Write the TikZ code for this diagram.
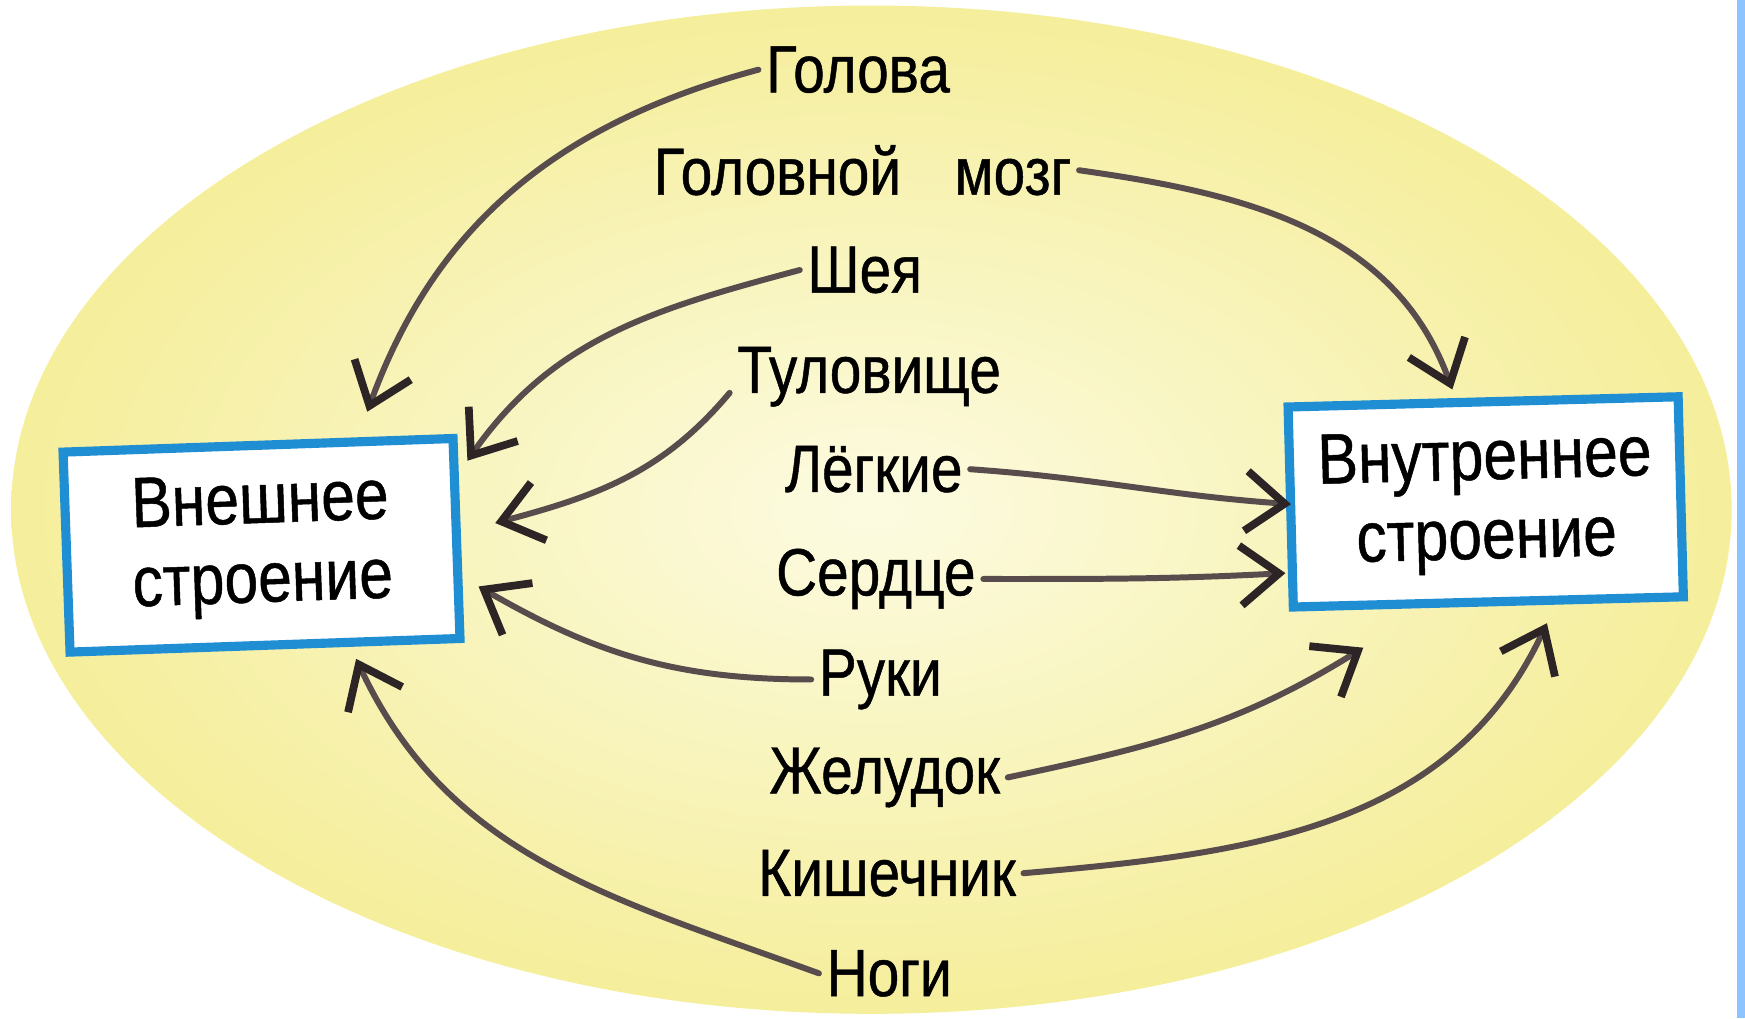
\documentclass[tikz,border=0pt]{standalone}
\usepackage{fontspec}
\setmainfont{Liberation Sans}[FakeStretch=0.85,FakeBold=0.7]
\usetikzlibrary{arrows.meta}

\definecolor{oval}{RGB}{245,238,155}
\definecolor{ovalin}{RGB}{252,251,225}
\definecolor{frame}{RGB}{32,142,210}
\definecolor{pencil}{RGB}{88,76,76}
\definecolor{pencilhead}{RGB}{45,36,38}
\definecolor{edge}{RGB}{140,196,255}

\begin{document}
\begin{tikzpicture}[x=0.01113cm,y=0.01113cm,
    part/.style={font=\fontsize{19}{22}\selectfont, anchor=base, inner sep=2pt},
    box/.style={draw=frame, line width=2.6pt, fill=white, minimum width=3.9cm,
      minimum height=2cm, align=center, font=\fontsize{20.3}{22.5}\selectfont},
    arr/.style={-{Straight Barb[length=11pt,width=17pt,line width=2.2pt,color=pencilhead]},
      line width=1.7pt, draw=pencil, line cap=round}]
  \useasboundingbox (0,0) rectangle (1568,915);
  \fill[white] (0,0) rectangle (1568,915);
  \shade[inner color=ovalin, outer color=oval] (783,457) ellipse [x radius=773, y radius=453];
  \fill[edge] (1561,0) rectangle (1568,915);

  \node[box, rotate=2] (outer) at (235,425) {Внешнее\\строение};
  \node[box, rotate=1.5] (inner) at (1335,464) {Внутреннее\\строение};

  \node[part] (golova) at (771,832) {Голова};
  \node[part] (mozg) at (775,740) {Головной\hspace{0.8em}мозг};
  \node[part] (sheya) at (777,652) {Шея};
  \node[part] (tulov) at (781,562) {Туловище};
  \node[part] (legkie) at (785,473) {Лёгкие};
  \node[part] (serdce) at (787,380) {Сердце};
  \node[part] (ruki) at (791,290) {Руки};
  \node[part] (zhelud) at (795,202) {Желудок};
  \node[part] (kish) at (797,110) {Кишечник};
  \node[part] (nogi) at (799,20) {Ноги};

  % to the outer box
  \draw[arr] (golova.west) to[out=195,in=70] ([shift={(95,120)}]outer.center);
  \draw[arr] (sheya.west) to[out=195,in=55] ([shift={(185,76)}]outer.center);
  \draw[arr] (tulov.base west) to[out=230,in=15] ([shift={(210,20)}]outer.center);
  \draw[arr] (ruki.west) to[out=180,in=-30] ([shift={(195,-37)}]outer.center);
  \draw[arr] (nogi.west) to[out=160,in=-65] ([shift={(85,-102)}]outer.center);

  % to the inner box
  \draw[arr] (mozg.east) to[out=-8,in=110] ([shift={(-30,101)}]inner.center);
  \draw[arr] (legkie.east) to[out=-4,in=176] ([shift={(-175,-2)}]inner.center);
  \draw[arr] (serdce.east) to[out=0,in=183] ([shift={(-180,-64)}]inner.center);
  \draw[arr] (zhelud.east) to[out=12,in=212] ([shift={(-110,-131)}]inner.center);
  \draw[arr] (kish.east) to[out=5,in=245] ([shift={(55,-109)}]inner.center);
\end{tikzpicture}
\end{document}
